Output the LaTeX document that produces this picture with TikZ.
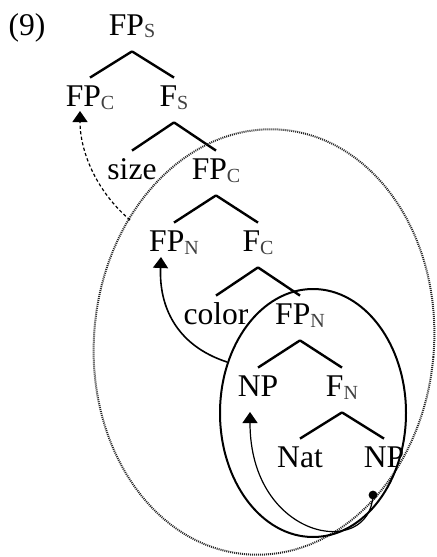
\documentclass[tikz,border=0pt]{standalone}
\usepackage{fontspec}
\setmainfont{Liberation Serif}
\usetikzlibrary{arrows.meta,calc}
\newcommand\sbx[1]{\raisebox{-1.5pt}{\fontsize{10}{12}\selectfont\color{black!75}#1}}
\begin{document}
\begin{tikzpicture}[x=0.5pt,y=-0.5pt,
  lab/.style={anchor=base, font=\fontsize{15.8}{18}\selectfont, text height=10pt, text depth=4pt, inner ysep=4pt, inner xsep=0pt},
  branch/.style={line width=1.2pt},
  tip/.style={-{Triangle[width=7.5pt,length=5.5pt]}},
  dotline/.style={line width=1pt, black!85, dash pattern=on 0.5pt off 0.5pt},
  dasharr/.style={tip, line width=0.6pt, dash pattern=on 1.6pt off 1.2pt},
  arr/.style={tip, line width=0.8pt},
  thinarr/.style={tip, line width=0.6pt}]
\useasboundingbox (0,0) rectangle (436,557);

% labels
\node[lab] (ex) at (27,35) {(9)};
\node[lab] (fps) at (132,35) {FP\sbx{S}};
\node[lab] (fpc) at (90,106) {FP\sbx{C}};
\node[lab] (fs) at (174,106) {F\sbx{S}};
\node[lab] (size) at (132,179) {size};
\node[lab] (fpc2) at (216,179) {FP\sbx{C}};
\node[lab] (fpn) at (174,251) {FP\sbx{N}};
\node[lab] (fc) at (258,251) {F\sbx{C}};
\node[lab] (color) at (216,324) {color};
\node[lab] (fpn2) at (300,324) {FP\sbx{N}};
\node[lab] (np) at (258,396) {NP};
\node[lab] (fn) at (342,396) {F\sbx{N}};
\node[lab] (nat) at (300,467) {Nat};
\node[lab] (np2) at (384,467) {NP};

% branches
\draw[branch] (fps.south) -- (fpc.north);
\draw[branch] (fps.south) -- (fs.north);
\draw[branch] (fs.south) -- (size.north);
\draw[branch] (fs.south) -- (fpc2.north);
\draw[branch] (fpc2.south) -- (fpn.north);
\draw[branch] (fpc2.south) -- (fc.north);
\draw[branch] (fc.south) -- (color.north);
\draw[branch] (fc.south) -- (fpn2.north);
\draw[branch] (fpn2.south) -- (np.north);
\draw[branch] (fpn2.south) -- (fn.north);
\draw[branch] (fn.south) -- (nat.north);
\draw[branch] (fn.south) -- (np2.north);

% big dotted ellipse
\draw[dotline, rotate around={-5:(264,342)}] (264,342) ellipse [x radius=85pt, y radius=106.5pt];

% solid ellipse
\draw[line width=1pt] (313,413) ellipse [x radius=46.5pt, y radius=62pt];

% arrow start points
\coordinate (d1) at (130,220);
\coordinate (s1) at (227,362);
\coordinate (dot) at (373,495);

\draw[dasharr] (d1) .. controls (95,190) and (80,150) .. ($(fpc.base)+(-10,5)$);
\draw[arr] (s1) .. controls (175,345) and (159,305) .. ($(fpn.base)+(-13,6)$);
\draw[thinarr] (dot) .. controls (370,560) and (250,540) .. ($(np.base)+(-8,16)$);
\fill (dot) circle[radius=2.2pt];
\end{tikzpicture}
\end{document}
